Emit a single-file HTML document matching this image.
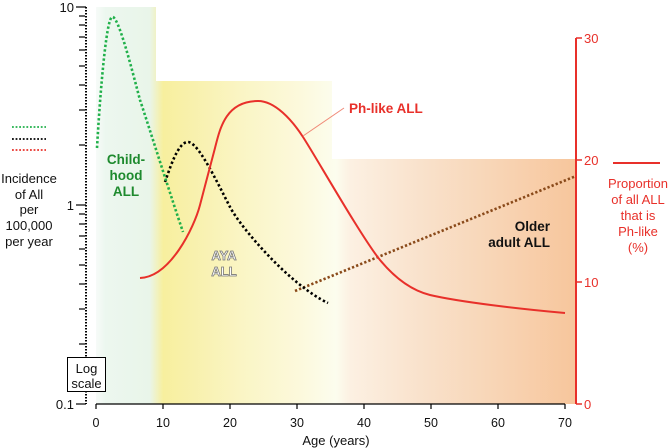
<!DOCTYPE html>
<html><head><meta charset="utf-8"><style>
html,body{margin:0;padding:0;background:#fff;}
svg{display:block;}
text{font-family:"Liberation Sans",Arial,sans-serif;}
</style></head><body>
<svg width="670" height="448" viewBox="0 0 670 448" xmlns="http://www.w3.org/2000/svg">
<defs>
<linearGradient id="bg" gradientUnits="userSpaceOnUse" x1="96" y1="0" x2="576" y2="0">
<stop offset="0" stop-color="#f7fbf8"/>
<stop offset="0.02" stop-color="#ecf7ef"/>
<stop offset="0.112" stop-color="#e9f5e9"/>
<stop offset="0.125" stop-color="#f0f2c6"/>
<stop offset="0.14" stop-color="#f7ef9e"/>
<stop offset="0.18" stop-color="#f8f0a8"/>
<stop offset="0.3" stop-color="#faf5c4"/>
<stop offset="0.425" stop-color="#fcf9dc"/>
<stop offset="0.5" stop-color="#fcfdee"/>
<stop offset="0.53" stop-color="#fcf0e2"/>
<stop offset="0.675" stop-color="#f9e2cc"/>
<stop offset="0.842" stop-color="#f8d4b4"/>
<stop offset="1" stop-color="#f7c69c"/>
</linearGradient>
</defs>

<!-- background bands -->
<rect x="96" y="7" width="60" height="397" fill="url(#bg)"/>
<rect x="156" y="81" width="176" height="323" fill="url(#bg)"/>
<rect x="332" y="159" width="244" height="245" fill="url(#bg)"/>

<!-- left axis -->
<line x1="86" y1="7" x2="86" y2="404" stroke="#000" stroke-width="2" stroke-dasharray="1.5 1.5"/>
<g stroke="#000" stroke-width="1.2">
<line x1="76" y1="7" x2="86" y2="7"/>
<line x1="76" y1="205" x2="86" y2="205"/>
<line x1="76" y1="404" x2="86" y2="404"/>
<line x1="79" y1="16" x2="85" y2="16"/>
<line x1="79" y1="25" x2="85" y2="25"/>
<line x1="79" y1="37" x2="85" y2="37"/>
<line x1="79" y1="50" x2="85" y2="50"/>
<line x1="79" y1="66" x2="85" y2="66"/>
<line x1="79" y1="85" x2="85" y2="85"/>
<line x1="79" y1="110" x2="85" y2="110"/>
<line x1="79" y1="145" x2="85" y2="145"/>
<line x1="79" y1="214" x2="85" y2="214"/>
<line x1="79" y1="224" x2="85" y2="224"/>
<line x1="79" y1="236" x2="85" y2="236"/>
<line x1="79" y1="249" x2="85" y2="249"/>
<line x1="79" y1="265" x2="85" y2="265"/>
<line x1="79" y1="284" x2="85" y2="284"/>
<line x1="79" y1="309" x2="85" y2="309"/>
<line x1="79" y1="344" x2="85" y2="344"/>
</g>
<g font-size="13" fill="#111" text-anchor="end">
<text x="74" y="12">10</text>
<text x="74" y="210">1</text>
<text x="74" y="409">0.1</text>
</g>

<!-- x axis -->
<line x1="96" y1="404" x2="565" y2="404" stroke="#000" stroke-width="1.2"/>
<g stroke="#000" stroke-width="1.2">
<line x1="96" y1="404" x2="96" y2="409"/>
<line x1="163" y1="404" x2="163" y2="409"/>
<line x1="230" y1="404" x2="230" y2="409"/>
<line x1="297" y1="404" x2="297" y2="409"/>
<line x1="364" y1="404" x2="364" y2="409"/>
<line x1="431" y1="404" x2="431" y2="409"/>
<line x1="498" y1="404" x2="498" y2="409"/>
<line x1="565" y1="404" x2="565" y2="409"/>
</g>
<g font-size="12.5" fill="#111" text-anchor="middle">
<text x="96" y="427">0</text>
<text x="163" y="427">10</text>
<text x="230" y="427">20</text>
<text x="297" y="427">30</text>
<text x="364" y="427">40</text>
<text x="431" y="427">50</text>
<text x="498" y="427">60</text>
<text x="565" y="427">70</text>
</g>
<text x="336" y="445" font-size="13" fill="#111" text-anchor="middle">Age (years)</text>

<!-- right axis -->
<line x1="576" y1="38" x2="576" y2="404" stroke="#e8302a" stroke-width="2"/>
<g stroke="#e8302a" stroke-width="1.5">
<line x1="576" y1="38" x2="582" y2="38"/>
<line x1="576" y1="160" x2="582" y2="160"/>
<line x1="576" y1="282" x2="582" y2="282"/>
<line x1="576" y1="404" x2="582" y2="404"/>
</g>
<g font-size="13" fill="#e8302a">
<text x="584" y="43">30</text>
<text x="584" y="165">20</text>
<text x="584" y="287">10</text>
<text x="584" y="409">0</text>
</g>

<!-- brown dotted -->
<line x1="295" y1="291" x2="576" y2="176" stroke="#8a4a1a" stroke-width="2.6" stroke-dasharray="2.3 2.1"/>

<!-- black dotted AYA -->
<path d="M165,182 C170,168 178,142 188,142 C198,142 216,180 230,207 C241,228 290,285 328,303" fill="none" stroke="#000" stroke-width="2.6" stroke-dasharray="2.4 2.4"/>

<!-- green dotted childhood -->
<path d="M97,148 C100,95 106,20 112,17 C118,14 132,70 140,100 C150,130 172,200 183,232" fill="none" stroke="#20b04a" stroke-width="2.6" stroke-dasharray="2.4 2.2"/>

<!-- red Ph-like curve -->
<path d="M140,278 C170,277 194,228 200,205 C206,182 215,148 215,148 C220,128 226,101 258,101 C275,101 292,120 303,137 C316,157 362,238 380,260 C394,277 410,290 430,295 C460,302 520,309 565,313" fill="none" stroke="#e8302a" stroke-width="2"/>

<!-- leader line -->
<line x1="303" y1="136" x2="344" y2="108" stroke="#f08a78" stroke-width="1"/>
<text x="349" y="113" font-size="13.5" font-weight="bold" fill="#e8302a">Ph-like ALL</text>

<!-- labels -->
<g font-size="13.5" font-weight="bold" fill="#1e8a2e" text-anchor="middle">
<text x="126" y="164">Child-</text>
<text x="126" y="180">hood</text>
<text x="126" y="196">ALL</text>
</g>
<g font-size="13" font-weight="bold" fill="#ffffff" stroke="#777" stroke-width="0.8" text-anchor="middle">
<text x="224" y="260">AYA</text>
<text x="224" y="276">ALL</text>
</g>
<g font-size="13.5" font-weight="bold" fill="#111" text-anchor="end">
<text x="550" y="231">Older</text>
<text x="550" y="247">adult ALL</text>
</g>

<!-- left legend -->
<line x1="12" y1="127" x2="46" y2="127" stroke="#20b04a" stroke-width="1.8" stroke-dasharray="1.8 1.8"/>
<line x1="12" y1="139" x2="46" y2="139" stroke="#000" stroke-width="1.8" stroke-dasharray="1.8 1.8"/>
<line x1="12" y1="150" x2="46" y2="150" stroke="#e8302a" stroke-width="1.8" stroke-dasharray="1.8 1.8"/>
<g font-size="13" fill="#111" text-anchor="middle">
<text x="29" y="183">Incidence</text>
<text x="29" y="199">of All</text>
<text x="29" y="214">per</text>
<text x="29" y="230">100,000</text>
<text x="29" y="246">per year</text>
</g>

<!-- log scale box -->
<rect x="67.5" y="357.5" width="38" height="34" fill="#fff" stroke="#000" stroke-width="1"/>
<g font-size="13" fill="#111" text-anchor="middle">
<text x="86.5" y="373">Log</text>
<text x="86.5" y="388">scale</text>
</g>

<!-- right legend -->
<line x1="613" y1="163" x2="660" y2="163" stroke="#e8302a" stroke-width="2"/>
<g font-size="13" fill="#e8302a" text-anchor="middle">
<text x="638" y="188">Proportion</text>
<text x="638" y="204">of all ALL</text>
<text x="638" y="220">that is</text>
<text x="638" y="236">Ph-like</text>
<text x="638" y="252">(%)</text>
</g>
</svg>
</body></html>
